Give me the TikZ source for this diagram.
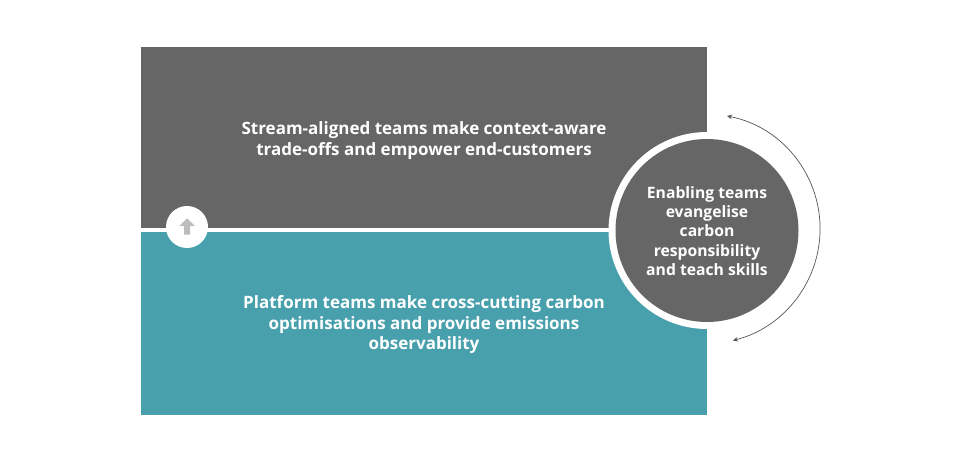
\documentclass[tikz,border=0pt]{standalone}
\usepackage{fontspec}
\setmainfont{Open Sans}
\usetikzlibrary{arrows.meta}
\definecolor{slate}{HTML}{666666}
\definecolor{teal}{HTML}{48A0AD}
\definecolor{arrowgrey}{HTML}{BDBDBD}
\definecolor{cycleline}{HTML}{555555}
\tikzset{
  label/.style={text=white, font=\bfseries\fontsize{17}{20.5}\selectfont, align=center},
  smalllabel/.style={text=white, font=\bfseries\fontsize{15.7}{19.3}\selectfont, align=center},
  cycle/.style={draw=cycleline, line width=0.7pt, {Stealth[length=5pt,width=4.5pt]}-{Stealth[length=5pt,width=4.5pt]}}
}
\begin{document}
\begin{tikzpicture}[x=1pt,y=1pt]
    \useasboundingbox (0, 0) rectangle (960, 455);
    % stream-aligned band
    \fill [slate] (141, 227) rectangle (707, 408);
    % platform band
    \fill [teal] (141, 40) rectangle (707, 223);
    % small circle
    \fill [white] (187, 228) circle (21);
    \fill [arrowgrey] (187, 236.7) -- (195, 229) -- (190, 229) -- (190, 220.3) -- (184, 220.3) -- (184, 229) -- (179.3, 229) -- cycle;
    % big circle
    \fill [white] (707, 224.5) circle (98.5);
    \fill [slate] (707, 224.5) circle (91.5);
    % outer arc
    \draw [cycle] (727, 339) arc [start angle=79, end angle=-76, radius=115];
    % labels
    \node [label] (stream) at (424, 314.5) {Stream-aligned teams make context-aware\\trade-offs and empower end-customers};
    \node [label] (platform) at (424, 130) {Platform teams make cross-cutting carbon\\optimisations and provide emissions\\observability};
    \node [smalllabel] (enabling) at (707, 224) {Enabling teams\\evangelise\\carbon\\responsibility\\and teach skills};
\end{tikzpicture}
\end{document}
